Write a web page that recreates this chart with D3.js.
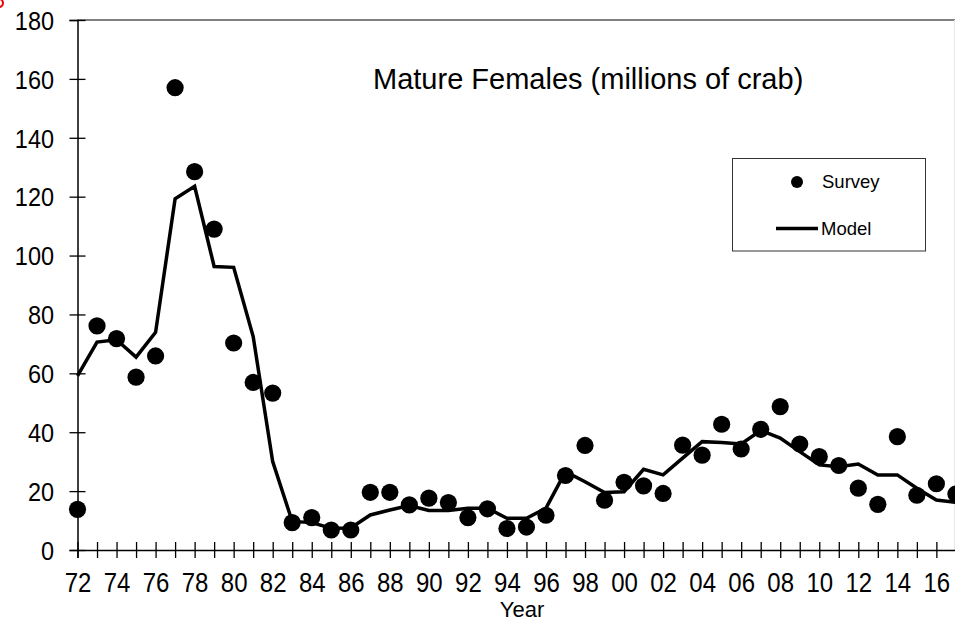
<!DOCTYPE html>
<html>
<head>
<meta charset="utf-8">
<script src="https://cdn.jsdelivr.net/npm/d3@7"></script>
<style>
  html, body { margin: 0; padding: 0; background: #fff; overflow: hidden; }
  svg { display: block; font-family: "Liberation Sans", Arial, sans-serif; }
</style>
</head>
<body>
<svg id="chart" width="955" height="625"></svg>
<script>
const years = d3.range(1972, 2018);
const surveyValues = [13.8, 76.1, 71.8, 58.7, 65.9, 157.0, 128.5, 109.0, 70.3, 56.9,
  53.3, 9.3, 11.0, 6.8, 6.8, 19.6, 19.6, 15.3, 17.6, 16.1,
  11.0, 14.0, 7.3, 7.8, 11.8, 25.3, 35.5, 16.9, 23.0, 21.8,
  19.2, 35.6, 32.2, 42.7, 34.3, 41.0, 48.7, 36.0, 31.7, 28.7,
  21.0, 15.5, 38.5, 18.6, 22.5, 19.0];
const modelValues = [59.1, 70.6, 71.4, 65.5, 73.9, 119.3, 123.5, 96.3, 96.0, 72.5,
  30.0, 9.7, 9.3, 7.4, 7.5, 11.9, 13.6, 15.1, 13.4, 13.4,
  14.2, 14.2, 10.8, 10.8, 14.2, 26.6, 23.2, 19.5, 19.8, 27.4,
  25.5, 31.2, 36.8, 36.5, 36.0, 40.6, 38.0, 33.4, 28.9, 28.3,
  29.2, 25.5, 25.5, 21.0, 17.0, 16.2];
const yTicks = [0, 20, 40, 60, 80, 100, 120, 140, 160, 180];
const xLabelYears = d3.range(1972, 2018, 2);
const titleText = "Mature Females (millions of crab)";
const xAxisTitle = "Year";
const legendLabels = ["Survey", "Model"];

const svg = d3.select("#chart");
const x = d3.scaleLinear().domain([1972, 2017]).range([77.5, 955.9]);
const y = d3.scaleLinear().domain([0, 180]).range([550, 20]);

// red corner artifact
svg.append("circle").attr("cx", -1).attr("cy", 3).attr("r", 4)
  .attr("fill", "none").attr("stroke", "#e00").attr("stroke-width", 2);

// top border and faint right border
svg.append("line").attr("x1", x(1972)).attr("x2", 955).attr("y1", y(180)).attr("y2", y(180))
  .attr("stroke", "#808080").attr("stroke-width", 2);
svg.append("line").attr("x1", 954.5).attr("x2", 954.5).attr("y1", y(180)).attr("y2", y(0))
  .attr("stroke", "#e8e8e8").attr("stroke-width", 1);

// Y axis
const yAxis = d3.axisLeft(y).tickValues(yTicks).tickSize(8).tickPadding(14);
const gy = svg.append("g").attr("transform", `translate(${x(1972)},0)`).call(yAxis);
gy.select(".domain").attr("stroke", "#000").attr("stroke-width", 1.5);
gy.selectAll(".tick line").attr("stroke", "#000").attr("stroke-width", 1.3).attr("x2", -8).attr("x1", 8);
gy.selectAll(".tick text").attr("font-size", 23.5).attr("fill", "#000")
  .attr("font-family", "Liberation Sans, Arial, sans-serif")
  .attr("x", -23.5).attr("dy", "0.36em")
  .attr("transform", "scale(1,1.1)");

// X axis
const xAxis = d3.axisBottom(x).tickValues(years).tickSize(8)
  .tickFormat(d => (xLabelYears.includes(d) ? d3.format("02d")(d % 100) : ""));
const gx = svg.append("g").attr("transform", `translate(0,${y(0)})`).call(xAxis);
gx.select(".domain").attr("stroke", "#000").attr("stroke-width", 1.5);
gx.selectAll(".tick line").attr("stroke", "#000").attr("stroke-width", 1.3).attr("y1", -8).attr("y2", 8);
gx.selectAll(".tick text").attr("font-size", 24).attr("fill", "#000")
  .attr("font-family", "Liberation Sans, Arial, sans-serif")
  .attr("y", 0).attr("dy", 0)
  .attr("transform", "translate(0,41.5) scale(1,1.12)");

// axis title
svg.append("text").attr("x", 522).attr("y", 617).attr("text-anchor", "middle")
  .attr("font-size", 22).attr("fill", "#000").text(xAxisTitle);

// chart title
svg.append("text").attr("x", 373).attr("y", 88.5).attr("font-size", 29)
  .attr("fill", "#000").text(titleText);

// model line
const line = d3.line().x((d, i) => x(years[i])).y(d => y(d));
svg.append("path").datum(modelValues).attr("d", line)
  .attr("fill", "none").attr("stroke", "#000").attr("stroke-width", 3.5)
  .attr("stroke-linejoin", "miter");

// survey points
svg.append("g").selectAll("circle").data(surveyValues).join("circle")
  .attr("cx", (d, i) => x(years[i])).attr("cy", d => y(d)).attr("r", 8.6).attr("fill", "#000");

// legend
const lg = svg.append("g");
lg.append("rect").attr("x", 732.5).attr("y", 158.5).attr("width", 193).attr("height", 92.5)
  .attr("fill", "#fff").attr("stroke", "#333").attr("stroke-width", 1);
lg.append("circle").attr("cx", 797).attr("cy", 182).attr("r", 6).attr("fill", "#000");
lg.append("text").attr("x", 822).attr("y", 188).attr("font-size", 18.5).attr("fill", "#000").text(legendLabels[0]);
lg.append("line").attr("x1", 776).attr("x2", 818).attr("y1", 228.5).attr("y2", 228.5)
  .attr("stroke", "#000").attr("stroke-width", 3.5);
lg.append("text").attr("x", 821).attr("y", 235).attr("font-size", 18.5).attr("fill", "#000").text(legendLabels[1]);
</script>
</body>
</html>
